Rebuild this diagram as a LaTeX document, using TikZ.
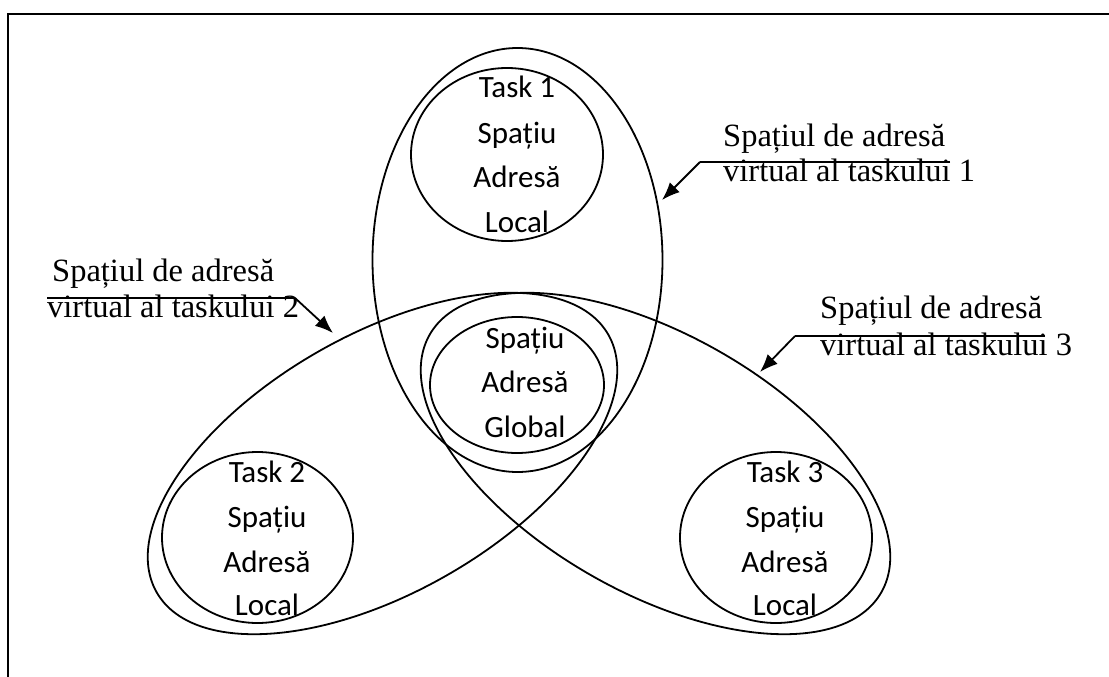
\documentclass[tikz,border=0pt]{standalone}
\usepackage{fontspec}
\setmainfont{Liberation Serif}
\newfontfamily\carlito{Carlito}
\usetikzlibrary{arrows.meta}
\begin{document}
\begin{tikzpicture}[x=1pt,y=-1pt,
  outline/.style={line width=1.8pt},
  inlbl/.style={font=\carlito\fontsize{31}{37}\selectfont, inner sep=0pt, anchor=base},
  outlbl/.style={font=\fontsize{32.5}{38}\selectfont, inner sep=0pt, anchor=base west},
  leader/.style={line width=1.8pt},
  pointer/.style={line width=1.8pt, -{Latex[length=18pt,width=14pt]}},
  frameline/.style={line width=2pt}]
\useasboundingbox (0,0) rectangle (1109,677);
% frame
\draw[frameline] (8,677) -- (8,14) -- (1109,14);
% big ellipses (virtual address spaces)
\draw[outline] (517.5,260) ellipse [x radius=145pt, y radius=212pt];
\draw[outline, rotate around={29.7:(382.5,463.5)}] (382.5,463.5) ellipse [x radius=260pt, y radius=129pt];
\draw[outline, rotate around={-29.7:(655.5,463.5)}] (655.5,463.5) ellipse [x radius=260pt, y radius=129pt];
% inner circles
\draw[outline] (507,154.5) ellipse [x radius=96pt, y radius=86.5pt];
\draw[outline] (517,385) ellipse [x radius=87pt, y radius=68pt];
\draw[outline] (257.5,537.5) ellipse [x radius=95.5pt, y radius=85.5pt];
\draw[outline] (776,537.5) ellipse [x radius=96pt, y radius=85.5pt];
% texts task 1
\node[inlbl] (t1a) at (517,98) {Task 1};
\node[inlbl] (t1b) at (517,143) {Spațiu};
\node[inlbl] (t1c) at (517,187) {Adresă};
\node[inlbl] (t1d) at (517,232) {Local};
% global
\node[inlbl] (g1) at (525,348) {Spațiu};
\node[inlbl] (g2) at (525,392) {Adresă};
\node[inlbl] (g3) at (525,437) {Global};
% task 2
\node[inlbl] (t2a) at (267,482) {Task 2};
\node[inlbl] (t2b) at (267,527) {Spațiu};
\node[inlbl] (t2c) at (267,572) {Adresă};
\node[inlbl] (t2d) at (267,615) {Local};
% task 3
\node[inlbl] (t3a) at (785,482) {Task 3};
\node[inlbl] (t3b) at (785,527) {Spațiu};
\node[inlbl] (t3c) at (785,572) {Adresă};
\node[inlbl] (t3d) at (785,615) {Local};
% callout 1
\node[outlbl] (c1a) at (723,146) {Spațiul de adresă};
\node[outlbl] (c1b) at (723,181) {virtual al taskului 1};
\coordinate (c1e) at (950,162);
\coordinate (c1k) at (700,162);
\coordinate (c1t) at (662,200);
\draw[leader] (c1e) -- (c1k);
\draw[pointer] (c1k) -- (c1t);
% callout 2
\node[outlbl] (c2a) at (52,281) {Spațiul de adresă};
\node[outlbl] (c2b) at (47,317) {virtual al taskului 2};
\coordinate (c2e) at (47,298);
\coordinate (c2k) at (295,298);
\coordinate (c2t) at (333,333);
\draw[leader] (c2e) -- (c2k);
\draw[pointer] (c2k) -- (c2t);
% callout 3
\node[outlbl] (c3a) at (820,318) {Spațiul de adresă};
\node[outlbl] (c3b) at (820,355) {virtual al taskului 3};
\coordinate (c3e) at (1045,336);
\coordinate (c3k) at (795,336);
\coordinate (c3t) at (760,372);
\draw[leader] (c3e) -- (c3k);
\draw[pointer] (c3k) -- (c3t);
\end{tikzpicture}
\end{document}
